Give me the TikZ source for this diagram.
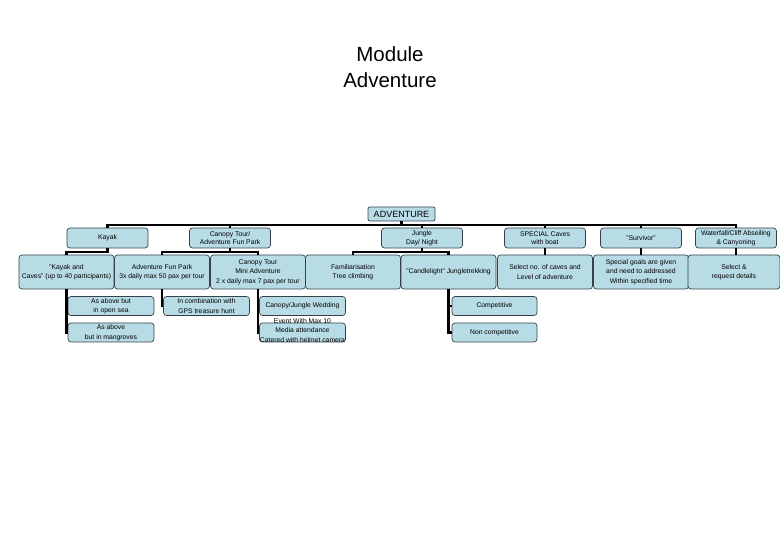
\documentclass[tikz,border=0pt]{standalone}
\usepackage{fontspec}
\setmainfont{Liberation Sans}
\usepackage{tikz}

\definecolor{boxblue}{RGB}{184,220,230}
\definecolor{boxline}{RGB}{55,65,70}

\begin{document}
\begin{tikzpicture}[x=1pt,y=-1pt,
		box/.style={rectangle,rounded corners=3pt,draw=boxline,fill=boxblue,line width=0.7pt,inner sep=0pt,align=center,font=\fontsize{6.8}{9.5}\selectfont},
		topbox/.style={box,minimum width=81pt,minimum height=20pt,font=\fontsize{6.8}{8.5}\selectfont},
		midbox/.style={box,minimum width=95pt,minimum height=34pt},
		lowbox/.style={box,minimum width=86pt,minimum height=19pt},
		link/.style={line width=2.6pt}]
		\useasboundingbox (0,0) rectangle (780,540);
%		\draw[help lines,step=20] (0,0) grid (780,540);
		\path (390,67) node(title) [align=center,font=\fontsize{20.5}{26}\selectfont] {Module\\Adventure};
		\path (401.5,214) node(adventure) [box,rounded corners=2pt,minimum width=67pt,minimum height=14pt,font=\fontsize{9}{10}\selectfont] {ADVENTURE};

		\path (107.5,238) node(kayak) [topbox] {Kayak};
		\path (230,238) node(canopy) [topbox] {Canopy Tour/\\Adventure Fun Park};
		\path (422,238) node(jungle) [topbox] {Jungle\\Day/ Night};
		\path (545,238) node(special) [topbox] {SPECIAL Caves\\with boat};
		\path (641,238) node(survivor) [topbox] {"Survivor"};
		\path (736,238) node(waterfall) [topbox] {Waterfall/Cliff Abseiling\\\& Canyoning};

		\path (66.5,272) node(kayakcaves) [midbox] {"Kayak and\\Caves" (up to 40 participants)};
		\path (162,272) node(funpark) [midbox] {Adventure Fun Park\\3x daily max 50 pax per tour};
		\path (258,272) node(canopytour) [midbox] {Canopy Tour\\Mini Adventure\\2 x daily max 7 pax per tour};
		\path (353,272) node(familiar) [midbox] {Familiarisation\\Tree climbing};
		\path (448.5,272) node(candle) [midbox] {"Candlelight" Jungletrekking};
		\path (545,272) node(selectcaves) [midbox] {Select no. of caves and\\Level of adventure};
		\path (641,272) node(goals) [midbox] {Special goals are given\\and need to addressed\\Within specified time};
		\path (734,272) node(selectreq) [midbox,minimum width=92pt] {Select \&\\request details};

		\path (111,306) node(opensea) [lowbox] {As above but\\in open sea};
		\path (111,332.5) node(mangroves) [lowbox] {As above\\but in mangroves};
		\path (206.5,306) node(gps) [lowbox] {In combination with\\GPS treasure hunt};
		\path (302.5,306) node(wedding) [lowbox] {Canopy/Jungle Wedding};
		\path (302.5,332.5) node(event) [lowbox] {\smash{\begin{tabular}{@{}c@{}}Event With Max 10\\Media attendance\\Catered with helmet camera\end{tabular}}};
		\path (494.5,306) node(competitive) [lowbox,minimum width=85pt] {Competitive};
		\path (494.5,332.5) node(noncomp) [lowbox,minimum width=85pt] {Non competitive};

		\draw[link] (adventure.south) -- ++(0,3.5) coordinate (topbar);
		\draw[link] (kayak.north) |- (topbar) -| (waterfall.north);
		\foreach \n in {canopy,jungle,special,survivor}
			\draw[link] (\n.north) -- (\n.north |- topbar);

		\draw[link] (kayak.south) -- ++(0,3.5) -| (kayakcaves.north);
		\draw[link] (canopy.south) -- ++(0,3.5) coordinate (canopybar);
		\draw[link] (funpark.north) |- (canopybar) -| (canopytour.north);
		\draw[link] (jungle.south) -- ++(0,3.5) coordinate (junglebar);
		\draw[link] (familiar.north) |- (junglebar) -| (candle.north);
		\draw[link] (special.south) -- (selectcaves.north);
		\draw[link] (survivor.south) -- (goals.north);
		\draw[link] (waterfall.south) -- (waterfall.south |- selectreq.north);

		\draw[link] (kayakcaves.south) |- (opensea.west);
		\draw[link] (kayakcaves.south) |- (mangroves.west);
		\draw[link] (funpark.south) |- (gps.west);
		\draw[link] (canopytour.south) |- (wedding.west);
		\draw[link] (canopytour.south) |- (event.west);
		\draw[link] (candle.south) |- (competitive.west);
		\draw[link] (candle.south) |- (noncomp.west);
	\end{tikzpicture}
\end{document}
